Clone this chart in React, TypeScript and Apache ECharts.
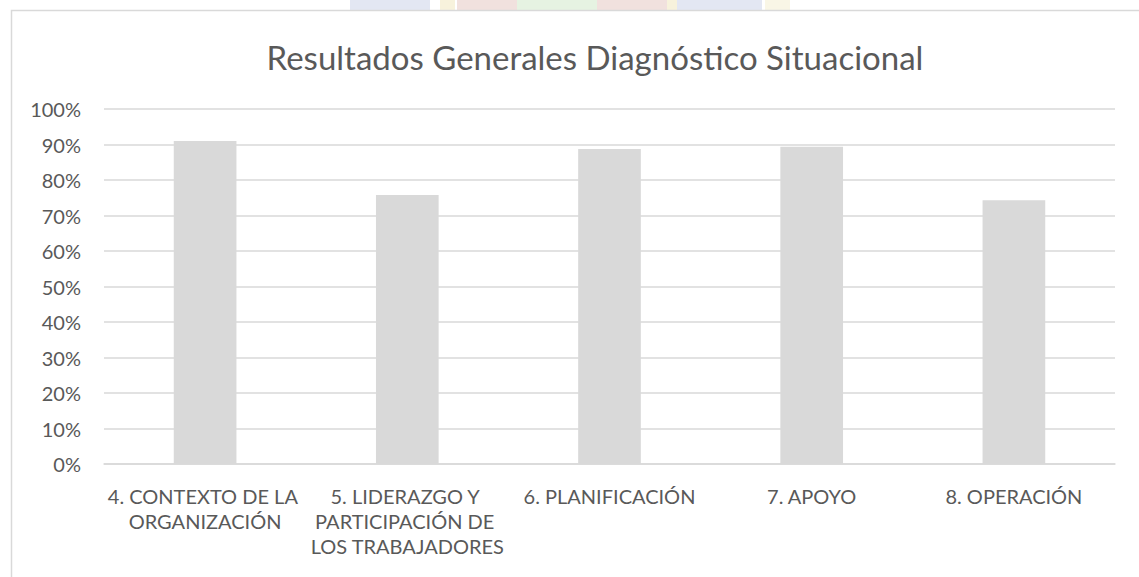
import React, { useEffect, useRef } from "react";
import * as echarts from "echarts";

const categories = [
  "4. CONTEXTO DE LA ORGANIZACIÓN",
  "5. LIDERAZGO Y PARTICIPACIÓN DE LOS TRABAJADORES",
  "6. PLANIFICACIÓN",
  "7. APOYO",
  "8. OPERACIÓN",
];
const values = [91, 75.8, 88.7, 89.4, 74.3];
const yTicks = { min: 0, max: 100, interval: 10 };
const titleText = "Resultados Generales Diagnóstico Situacional";

const FONT = "Lato, 'Noto Sans', sans-serif";
const TXT = "#595959";

export default function App() {
  const ref = useRef<HTMLDivElement>(null);
  useEffect(() => {
    if (!ref.current) return;
    const chart = echarts.init(ref.current, undefined, { renderer: "svg" });
    const wm = [
      { x: 350, w: 80, c: "#e3e7f3" },
      { x: 440, w: 15, c: "#f7f2dc" },
      { x: 457, w: 60, c: "#f1e1de" },
      { x: 517, w: 80, c: "#e6f3e2" },
      { x: 597, w: 70, c: "#f1e1de" },
      { x: 667, w: 10, c: "#f7f2dc" },
      { x: 677, w: 85, c: "#e3e7f3" },
      { x: 765, w: 25, c: "#f9f6e6" },
    ];
    chart.setOption({
      animation: false,
      backgroundColor: "#ffffff",
      title: {
        text: titleText,
        left: 590,
        textAlign: "center",
        top: 35,
        textStyle: { fontFamily: FONT, fontSize: 33, fontWeight: "normal", color: TXT },
      },
      graphic: [
        ...wm.map((r) => ({
          type: "rect",
          silent: true,
          z: -10,
          shape: { x: r.x, y: 0, width: r.w, height: 10 },
          style: { fill: r.c },
        })),
        {
          type: "rect",
          silent: true,
          z: -5,
          shape: { x: 11.5, y: 10.5, width: 1200, height: 700 },
          style: { fill: "#ffffff", stroke: "#d9d9d9", lineWidth: 1.5 },
        },
      ],
      grid: { left: 104, right: 24, top: 109, bottom: 113, containLabel: false },
      xAxis: {
        type: "category",
        data: categories,
        axisLine: { show: true, lineStyle: { color: "#d9d9d9", width: 1.5 } },
        axisTick: { show: false },
        axisLabel: {
          interval: 0,
          fontFamily: FONT,
          fontSize: 20,
          color: TXT,
          margin: 19,
          lineHeight: 25,
          width: 198,
          overflow: "break",
        },
      },
      yAxis: {
        type: "value",
        min: yTicks.min,
        max: yTicks.max,
        interval: yTicks.interval,
        axisLine: { show: false },
        axisTick: { show: false },
        splitLine: { lineStyle: { color: "#d9d9d9", width: 1.5 } },
        axisLabel: {
          formatter: "{value}%",
          fontFamily: FONT,
          fontSize: 20,
          color: TXT,
          margin: 23,
        },
      },
      series: [
        {
          type: "bar",
          data: values,
          barWidth: "31%",
          itemStyle: { color: "#d9d9d9" },
        },
      ],
    });
    return () => chart.dispose();
  }, []);
  return (
    <div
      ref={ref}
      style={{ position: "fixed", left: 0, top: 0, width: 1139, height: 577 }}
    />
  );
}
